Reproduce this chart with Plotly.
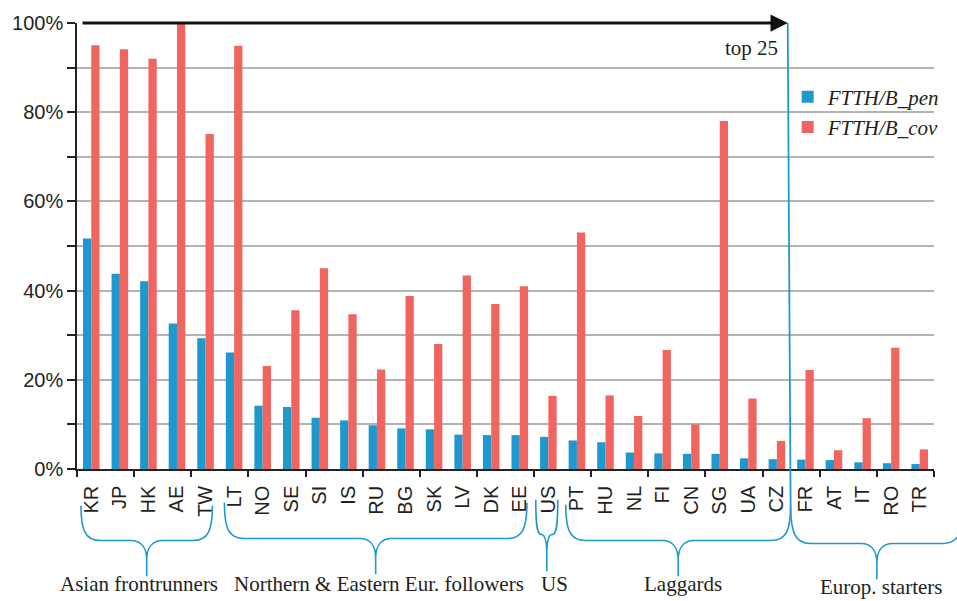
import plotly.graph_objects as go

# ---------------- data ----------------
countries = ["KR", "JP", "HK", "AE", "TW", "LT", "NO", "SE", "SI", "IS", "RU", "BG", "SK", "LV", "DK",
             "EE", "US", "PT", "HU", "NL", "FI", "CN", "SG", "UA", "CZ", "FR", "AT", "IT", "RO", "TR"]
ftth_pen = [51.7, 43.8, 42.1, 32.6, 29.3, 26.1, 14.2, 13.9, 11.5, 10.9, 9.8, 9.1, 8.9, 7.7, 7.6,
            7.6, 7.2, 6.4, 6.0, 3.7, 3.5, 3.4, 3.4, 2.4, 2.2, 2.1, 2.0, 1.5, 1.3, 1.1]
ftth_cov = [95.0, 94.1, 92.0, 100.0, 75.1, 94.9, 23.1, 35.6, 45.0, 34.7, 22.3, 38.8, 28.0, 43.4, 37.0,
            41.0, 16.4, 53.0, 16.5, 11.9, 26.7, 10.0, 78.0, 15.8, 6.3, 22.2, 4.2, 11.4, 27.2, 4.4]
series_names = ["FTTH/B_pen", "FTTH/B_cov"]
y_tick_values = [0, 20, 40, 60, 80, 100]
y_tick_labels = ["0%", "20%", "40%", "60%", "80%", "100%"]
group_names = ["Asian frontrunners", "Northern & Eastern Eur. followers", "US", "Laggards", "Europ. starters"]
group_first = ["KR", "LT", "US", "PT", "FR"]
group_last = ["TW", "EE", "US", "CZ", "TR"]
top_label = "top 25"
top_count = 25

# ---------------- styling ----------------
BLUE = "#1e98cd"
RED = "#f0655f"
TXT = "#231f20"
GRID = "#b3b3b3"
W, H = 957, 601
ML, MR, MT, MB = 76, 20, 20, 132
PL, PR, PT, PB = ML, W - MR, MT, H - MB
N = len(countries)
x_pos = list(range(N))
cat_px = (PR - PL) / N


def xpaper_from_data(xd):
    return (xd + 0.5) / N


def xpaper_from_px(xpx):
    return (xpx - PL) / (PR - PL)


def ypaper_from_px(ypx):
    return (PB - ypx) / (PB - PT)


def px_from_data(xd):
    return PL + (xd + 0.5) * cat_px


fig = go.Figure()
fig.add_trace(go.Bar(x=x_pos, y=ftth_pen, name=series_names[0], marker=dict(color=BLUE, line=dict(width=0))))
fig.add_trace(go.Bar(x=x_pos, y=ftth_cov, name=series_names[1], marker=dict(color=RED, line=dict(width=0))))

# ---------------- braces (decoration) ----------------
brace_pad = {  # left / right offsets around the group's first/last category (in category units)
    "Asian frontrunners": (-0.36, 0.24),
    "Northern & Eastern Eur. followers": (-0.34, 0.25),
    "US": (-0.44, 0.33),
    "Laggards": (-0.39, 0.48),
    "Europ. starters": (-0.52, 1.52),
}
brace_y = {  # top, horizontal, tip (pixels)
    "Asian frontrunners": (506, 541, 577),
    "Northern & Eastern Eur. followers": (503, 539, 575),
    "US": (500, 535, 572),
    "Laggards": (505, 541, 577),
    "Europ. starters": (504, 544, 580),
}
label_dx = {"Asian frontrunners": -8, "Northern & Eastern Eur. followers": 3, "US": 8,
            "Laggards": 5, "Europ. starters": 4}
label_y = {"Asian frontrunners": 585, "Northern & Eastern Eur. followers": 585, "US": 585,
           "Laggards": 585, "Europ. starters": 588}


def P(xpx, ypx):
    return f"{xpaper_from_px(xpx):.5f},{ypaper_from_px(ypx):.5f}"


shapes = []
annotations = []
for name, first, last in zip(group_names, group_first, group_last):
    lp, rp = brace_pad[name]
    X1 = px_from_data(countries.index(first) + lp)
    X2 = px_from_data(countries.index(last) + rp)
    Xc = (X1 + X2) / 2
    yt, yh, ytip = brace_y[name]
    a = min(20, (X2 - X1) / 4)
    w = min(16, (X2 - X1) / 4)
    d = (f"M{P(X1, yt)} C{P(X1, yt + 0.7 * (yh - yt))} {P(X1 + 0.2 * a, yh)} {P(X1 + a, yh)} "
         f"L{P(Xc - w, yh)} C{P(Xc - 0.35 * w, yh)} {P(Xc, yh + 0.2 * (ytip - yh))} {P(Xc, yh + 0.55 * (ytip - yh))} "
         f"L{P(Xc, ytip)} L{P(Xc, yh + 0.55 * (ytip - yh))} "
         f"C{P(Xc, yh + 0.2 * (ytip - yh))} {P(Xc + 0.35 * w, yh)} {P(Xc + w, yh)} "
         f"L{P(X2 - a, yh)} C{P(X2 - 0.2 * a, yh)} {P(X2, yt + 0.7 * (yh - yt))} {P(X2, yt)}")
    shapes.append(dict(type="path", path=d, xref="paper", yref="paper",
                       line=dict(color=BLUE, width=1.6)))
    annotations.append(dict(text=name, xref="paper", yref="paper",
                            x=xpaper_from_px(Xc + label_dx[name]), y=ypaper_from_px(label_y[name]),
                            xanchor="center", yanchor="middle", showarrow=False,
                            font=dict(family="Liberation Serif", size=21, color=TXT)))

# blue separator line for the top-25 boundary, down into the last brace
split = top_count - 0.5
shapes.append(dict(type="line", xref="paper", yref="paper",
                   x0=xpaper_from_data(split - 0.12), y0=1.0,
                   x1=xpaper_from_data(split - 0.02), y1=ypaper_from_px(brace_y["Europ. starters"][0]),
                   line=dict(color=BLUE, width=1.8)))

# black arrow along 100 %
annotations.append(dict(x=split - 0.12, y=100, xref="x", yref="y",
                        ax=-0.36, ay=100, axref="x", ayref="y",
                        text="", showarrow=True, arrowhead=2, arrowsize=1.15,
                        arrowwidth=3, arrowcolor="#111111", standoff=0))
annotations.append(dict(text=top_label, xref="paper", yref="paper",
                        x=xpaper_from_px(782), y=ypaper_from_px(45),
                        xanchor="right", yanchor="middle", showarrow=False,
                        font=dict(family="Liberation Serif", size=21, color=TXT)))

fig.update_layout(
    width=W, height=H,
    margin=dict(l=ML, r=MR, t=MT, b=MB, pad=0),
    paper_bgcolor="white", plot_bgcolor="white",
    barmode="group", bargap=0.42, bargroupgap=0,
    showlegend=True,
    legend=dict(x=xpaper_from_px(790), y=ypaper_from_px(74), xanchor="left", yanchor="top",
                bgcolor="rgba(0,0,0,0)", itemwidth=30, tracegroupgap=0,
                font=dict(family="Liberation Serif", size=21, color=TXT, style="italic")),
    shapes=shapes,
    annotations=annotations,
)

fig.update_xaxes(
    range=[-0.5, N - 0.5], tickmode="array", tickvals=x_pos, ticktext=countries,
    tickangle=-90, ticks="outside", ticklen=7, tickcolor="rgba(0,0,0,0)",
    tickfont=dict(family="Liberation Sans", size=20, color=TXT),
    showline=True, linecolor="#222222", linewidth=1.5, showgrid=False, zeroline=False,
    minor=dict(tickmode="array", tickvals=[i - 0.5 for i in range(0, N + 1, 2)],
               ticks="outside", ticklen=6, tickcolor="#222222", tickwidth=1.5, showgrid=False),
)
fig.update_yaxes(
    range=[0, 100], tickmode="array", tickvals=y_tick_values, ticktext=y_tick_labels,
    ticks="outside", ticklen=8, tickcolor="#222222", tickwidth=1.5,
    tickfont=dict(family="Liberation Sans", size=20, color=TXT),
    showline=True, linecolor="#222222", linewidth=1.5,
    showgrid=True, gridcolor=GRID, gridwidth=1.5, zeroline=False,
    minor=dict(dtick=10, ticks="outside", ticklen=8, tickcolor="#222222", tickwidth=1.5,
               showgrid=True, gridcolor=GRID, gridwidth=1.5),
)

fig.write_html("out.html", config={"displayModeBar": False},
               post_script="document.body.style.margin='0';document.body.style.overflow='hidden';")
